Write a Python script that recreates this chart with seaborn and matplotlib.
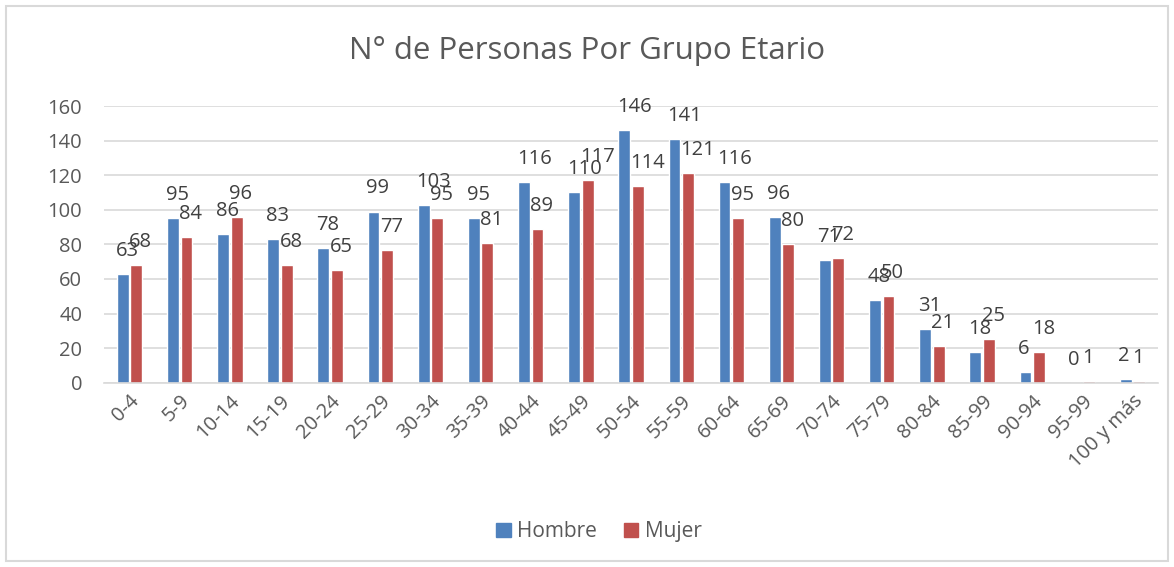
import pandas as pd
import matplotlib.pyplot as plt
import seaborn as sns
from matplotlib.patches import Rectangle

# Datos
grupos = ['0-4', '5-9', '10-14', '15-19', '20-24', '25-29', '30-34', '35-39', '40-44', '45-49',
          '50-54', '55-59', '60-64', '65-69', '70-74', '75-79', '80-84', '85-99', '90-94', '95-99',
          '100 y más']
hombre = [63, 95, 86, 83, 78, 99, 103, 95, 116, 110, 146, 141, 116, 96, 71, 48, 31, 18, 6, 0, 2]
mujer = [68, 84, 96, 68, 65, 77, 95, 81, 89, 117, 114, 121, 95, 80, 72, 50, 21, 25, 18, 1, 1]

tb = pd.DataFrame({'Grupo': grupos * 2,
                   'Sexo': ['Hombre'] * len(grupos) + ['Mujer'] * len(grupos),
                   'Personas': hombre + mujer})

sns.set_style('white')
plt.rcParams['font.family'] = ['Open Sans', 'DejaVu Sans']
gris = '#595959'
azul, rojo = '#4F81BD', '#C0504D'

fig = plt.figure(figsize=(11.74, 5.67), dpi=100)
ax = fig.add_axes([0.089, 0.325, 0.897, 0.488])

sns.barplot(data=tb, x='Grupo', y='Personas', hue='Sexo', order=grupos,
            palette=[azul, rojo], saturation=1, width=0.54, gap=0.13, ax=ax, legend=False)

# etiquetas de datos (como en Excel, empiezan en el borde izquierdo de la barra)
for cont in ax.containers:
    for barra in cont:
        ax.annotate(f'{barra.get_height():.0f}', xy=(barra.get_x(), barra.get_height()),
                    xytext=(-1, 13), textcoords='offset points', ha='left', va='baseline',
                    fontsize=14.5, color='#404040')

ax.set_ylim(0, 160)
ax.set_yticks(range(0, 161, 20))
ax.yaxis.grid(True, color='#d9d9d9', linewidth=1.2)
ax.set_axisbelow(True)
for s in ['top', 'right', 'left']:
    ax.spines[s].set_visible(False)
ax.spines['bottom'].set_color('#d9d9d9')
ax.spines['bottom'].set_linewidth(1.2)
ax.set_xlabel('')
ax.set_ylabel('')
ax.tick_params(axis='y', colors=gris, labelsize=14.5, length=0, pad=16)
ax.tick_params(axis='x', colors=gris, labelsize=14.5, length=0, pad=6)
plt.setp(ax.get_xticklabels(), rotation=45, ha='right', rotation_mode='anchor')

fig.text(0.5, 0.91, 'N° de Personas Por Grupo Etario', ha='center', va='center',
         fontsize=22.5, color=gris)

# leyenda
handles = [Rectangle((0, 0), 1, 1, color=azul), Rectangle((0, 0), 1, 1, color=rojo)]
fig.legend(handles, ['Hombre', 'Mujer'], loc='center', bbox_to_anchor=(0.51, 0.062), ncol=2,
           frameon=False, fontsize=15, labelcolor=gris, handlelength=0.7, handleheight=0.7,
           handletextpad=0.3, columnspacing=1.3)

# borde del grafico
fig.patches.append(Rectangle((0.005, 0.01), 0.99, 0.98, transform=fig.transFigure,
                             fill=False, edgecolor='#d9d9d9', linewidth=1.5))

plt.savefig('out.png', dpi=100)
